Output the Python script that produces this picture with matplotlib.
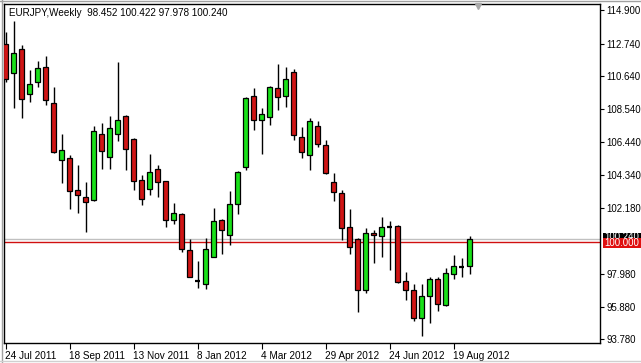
import numpy as np
import matplotlib
matplotlib.use("Agg")
import matplotlib.pyplot as plt
import matplotlib.transforms as mtransforms
from matplotlib.patches import Rectangle

# EURJPY weekly candles, 24 Jul 2011 .. 2 Sep 2012
opens = [112.72, 110.86, 112.40, 109.51, 110.28, 111.24, 108.94, 105.28, 105.41, 103.36,
         102.91, 102.71, 106.95, 105.47, 106.95, 108.10, 106.63, 104.00, 103.42, 104.70,
         103.93, 101.43, 101.82, 99.51, 97.51, 97.33, 99.06, 101.43, 100.47, 102.46,
         104.83, 109.38, 107.84, 108.04, 109.90, 109.38, 110.92, 106.75, 105.60, 107.46,
         106.24, 103.87, 103.16, 100.98, 100.21, 96.94, 100.60, 100.40, 100.97, 101.05,
         97.52, 96.94, 95.15, 96.56, 97.65, 95.98, 97.97, 98.41, 98.452]
highs = [113.49, 114.19, 112.66, 111.05, 111.63, 111.95, 109.96, 106.95, 105.60, 104.96,
         103.87, 107.46, 107.65, 108.10, 111.56, 108.13, 106.69, 104.32, 105.66, 104.96,
         103.95, 102.52, 101.88, 100.21, 98.80, 100.27, 102.20, 101.47, 103.29, 104.55,
         109.30, 109.90, 108.61, 110.00, 111.44, 111.24, 111.12, 107.40, 107.97, 107.78,
         106.56, 104.45, 103.36, 102.14, 100.25, 100.92, 100.79, 101.62, 101.37, 101.08,
         98.10, 97.33, 97.33, 97.78, 97.78, 98.35, 99.19, 98.99, 100.422]
lows = [110.28, 108.61, 107.97, 109.00, 109.96, 108.81, 105.73, 103.80, 102.14, 101.88,
        100.66, 102.65, 104.70, 104.70, 106.50, 104.64, 103.36, 102.39, 103.03, 102.91,
        100.98, 101.17, 99.38, 97.75, 97.07, 97.01, 99.03, 99.25, 99.83, 101.82,
        104.64, 107.20, 105.66, 107.52, 108.49, 108.68, 106.56, 105.41, 104.64, 106.11,
        104.38, 102.65, 100.15, 99.25, 95.53, 96.75, 98.67, 99.06, 98.22, 97.39,
        96.30, 94.95, 93.99, 94.82, 95.59, 95.92, 97.65, 97.78, 97.978]
closes = [110.47, 112.14, 109.19, 110.15, 111.18, 109.13, 105.79, 105.92, 103.29, 103.03,
          102.59, 107.14, 105.86, 107.33, 107.84, 105.99, 103.93, 102.78, 104.51, 103.87,
          101.43, 101.88, 99.57, 97.78, 97.51, 99.57, 101.37, 100.79, 102.46, 104.51,
          109.26, 107.84, 108.23, 109.96, 109.32, 110.47, 106.88, 105.79, 107.78, 106.31,
          104.45, 103.23, 100.92, 99.70, 96.94, 100.60, 100.47, 100.98, 100.97, 97.45,
          96.94, 95.15, 96.56, 97.65, 96.04, 98.03, 98.48, 98.41, 100.240]

tick_labels = ["24 Jul 2011", "18 Sep 2011", "13 Nov 2011", "8 Jan 2012",
               "4 Mar 2012", "29 Apr 2012", "24 Jun 2012", "19 Aug 2012"]
price_ticks = [114.900, 112.740, 110.640, 108.540, 106.440, 104.340, 102.180,
               97.980, 95.880, 93.780]
level_line = 100.000
bid_price = 100.240
title = "EURJPY,Weekly  98.452 100.422 97.978 100.240"

W, H = 641, 363
fig = plt.figure(figsize=(W / 100, H / 100), dpi=100)
fig.patch.set_facecolor("white")
ax = fig.add_axes([4 / W, 20 / H, 596 / W, 339 / H])
font = "Liberation Sans"
fs = 6.9

bull = "#19e019"
bear = "#d01515"
bw = 0.62
for i, (o, h, l, c) in enumerate(zip(opens, highs, lows, closes)):
    ax.vlines(i, l, h, color="black", lw=1.0, zorder=2)
    if abs(c - o) < 0.015:
        ax.hlines(o, i - bw / 2, i + bw / 2, color="black", lw=1.6, zorder=3)
    else:
        ax.bar(i, abs(c - o), bottom=min(o, c), width=bw,
               color=bull if c > o else bear, edgecolor="black", lw=0.9, zorder=3)

ax.axhline(bid_price, color="#c0c0c0", lw=1.0, zorder=1)
ax.axhline(level_line, color="#d01010", lw=1.0, zorder=1)

ax.set_xlim(-0.2, 74.3)
ax.set_ylim(93.54, 115.28)

ax.set_xticks(np.arange(len(tick_labels)) * 8)
ax.set_xticklabels(tick_labels, fontfamily=font, fontsize=fs + 0.3, ha="left")
ax.tick_params(axis="x", direction="out", length=4, width=0.8, pad=2)
offset = mtransforms.ScaledTranslation(-1 / 100, 0, fig.dpi_scale_trans)
for lab in ax.get_xticklabels():
    lab.set_transform(lab.get_transform() + offset)

ax.yaxis.tick_right()
ax.set_yticks(price_ticks)
ax.set_yticklabels([f"{v:.3f}" for v in price_ticks], fontfamily=font, fontsize=fs)
ax.tick_params(axis="y", direction="out", length=3, width=0.8, pad=1.5)

for sp in ax.spines.values():
    sp.set_color("black")
    sp.set_linewidth(1.0)

ytr = ax.get_yaxis_transform()
# price labels on the right axis (bid label partly hidden by the line label)
ax.add_patch(Rectangle((1.005, 99.96), 0.07, 0.64, transform=ytr,
                       facecolor="black", edgecolor="none", clip_on=False, zorder=5))
ax.text(1.0075, 100.32, f"{bid_price:.3f}", transform=ytr, color="white",
        fontfamily=font, fontsize=fs, va="center", ha="left", zorder=6, clip_on=False)
ax.add_patch(Rectangle((1.005, 99.62), 0.07, 0.66, transform=ytr,
                       facecolor="#e01010", edgecolor="none", clip_on=False, zorder=7))
ax.text(1.0075, 99.96, f"{level_line:.3f}", transform=ytr, color="white",
        fontfamily=font, fontsize=fs, va="center", ha="left", zorder=8, clip_on=False)

# chart shift marker
ax.plot([59.1], [115.12], marker="v", color="#a8a8a8", markersize=5, clip_on=False, zorder=5)

ax.text(5 / 596, 1 - 9 / 339, title, transform=ax.transAxes, fontfamily=font,
        fontsize=fs + 0.2, va="center", ha="left")

# window frame lines
fig.add_artist(plt.Line2D([0, 1], [1 - 1 / H, 1 - 1 / H], color="#a0a0a0", lw=1))
fig.add_artist(plt.Line2D([1.5 / W, 1.5 / W], [0, 1], color="#a0a0a0", lw=1))
fig.add_artist(plt.Line2D([0, 1], [2.5 / H, 2.5 / H], color="#d0d0d0", lw=1))

fig.savefig("out.png", dpi=100, facecolor="white")
